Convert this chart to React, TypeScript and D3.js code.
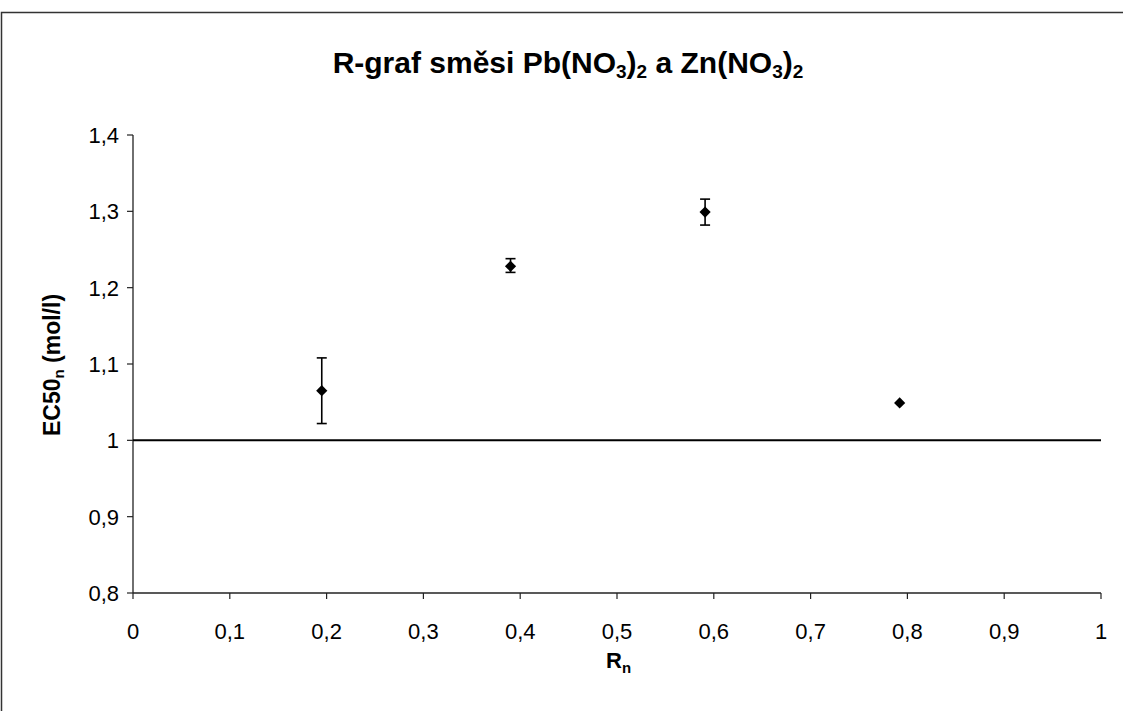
import React from "react";
import * as d3 from "d3";

const xValues = [0.195, 0.39, 0.591, 0.792];
const yValues = [1.065, 1.228, 1.299, 1.049];
const errLow = [1.022, 1.22, 1.282, 1.049];
const errHigh = [1.108, 1.238, 1.316, 1.049];
const xTicks = [0, 0.1, 0.2, 0.3, 0.4, 0.5, 0.6, 0.7, 0.8, 0.9, 1];
const yTicks = [0.8, 0.9, 1.0, 1.1, 1.2, 1.3, 1.4];
const refLine = 1;

const W = 1123;
const H = 711;
const left = 133, right = 1101, top = 135, bottom = 593;

const fmt = (v: number) => {
  const s = d3.format("~g")(+v.toFixed(2));
  return s.replace(".", ",");
};

export default function App() {
  const x = d3.scaleLinear().domain([0, 1]).range([left, right]);
  const y = d3.scaleLinear().domain([0.8, 1.4]).range([bottom, top]);
  const font = "'Liberation Sans', Arial, sans-serif";
  const diamond = d3.symbol().type(d3.symbolDiamond2).size(80)();
  return (
    <svg width={W} height={H} style={{ position: "absolute", left: 0, top: 0, background: "#fff" }} fontFamily={font}>
      <rect x={0} y={0} width={W} height={H} fill="#fff" />
      <rect x={1.5} y={12.5} width={W + 10} height={H + 10} fill="none" stroke="#333" strokeWidth={1.5} />
      <text x={568} y={73} textAnchor="middle" fontSize={30} fontWeight="bold" fill="#000">
        R-graf směsi Pb(NO<tspan fontSize={19} dy={5}>3</tspan><tspan dy={-5}>)</tspan><tspan fontSize={19} dy={5}>2</tspan><tspan dy={-5}> a Zn(NO</tspan><tspan fontSize={19} dy={5}>3</tspan><tspan dy={-5}>)</tspan><tspan fontSize={19} dy={5}>2</tspan>
      </text>
      {/* axes */}
      <line x1={left} x2={left} y1={top} y2={bottom} stroke="#222" strokeWidth={1.3} />
      <line x1={left} x2={right} y1={bottom} y2={bottom} stroke="#222" strokeWidth={1.3} />
      {yTicks.map((t) => (
        <g key={"y" + t}>
          <line x1={left - 6} x2={left} y1={y(t)} y2={y(t)} stroke="#222" strokeWidth={1.2} />
          <text x={left - 14} y={y(t) + 8} textAnchor="end" fontSize={22} fill="#000">{fmt(t)}</text>
        </g>
      ))}
      {xTicks.map((t) => (
        <g key={"x" + t}>
          <line x1={x(t)} x2={x(t)} y1={bottom} y2={bottom + 6} stroke="#222" strokeWidth={1.2} />
          <text x={x(t)} y={bottom + 46} textAnchor="middle" fontSize={22} fill="#000">{fmt(t)}</text>
        </g>
      ))}
      <text x={606} y={668} fontSize={22} fontWeight="bold" fill="#000">R<tspan fontSize={15} dy={5}>n</tspan></text>
      <text transform={`translate(60,365) rotate(-90)`} textAnchor="middle" fontSize={23} fontWeight="bold" fill="#000">
        EC50<tspan fontSize={15} dy={4}>n</tspan><tspan dy={-4}> (mol/l)</tspan>
      </text>
      {/* reference line */}
      <line x1={left} x2={right} y1={y(refLine)} y2={y(refLine)} stroke="#000" strokeWidth={2} />
      {/* error bars */}
      {xValues.map((xv, i) =>
        errHigh[i] - errLow[i] > 0.001 ? (
          <g key={"e" + i} stroke="#000" strokeWidth={1.6}>
            <line x1={x(xv)} x2={x(xv)} y1={y(errLow[i])} y2={y(errHigh[i])} />
            <line x1={x(xv) - 5} x2={x(xv) + 5} y1={y(errLow[i])} y2={y(errLow[i])} />
            <line x1={x(xv) - 5} x2={x(xv) + 5} y1={y(errHigh[i])} y2={y(errHigh[i])} />
          </g>
        ) : null
      )}
      {xValues.map((xv, i) => (
        <path key={"p" + i} d={diamond || ""} transform={`translate(${x(xv)},${y(yValues[i])})`} fill="#000" />
      ))}
    </svg>
  );
}
